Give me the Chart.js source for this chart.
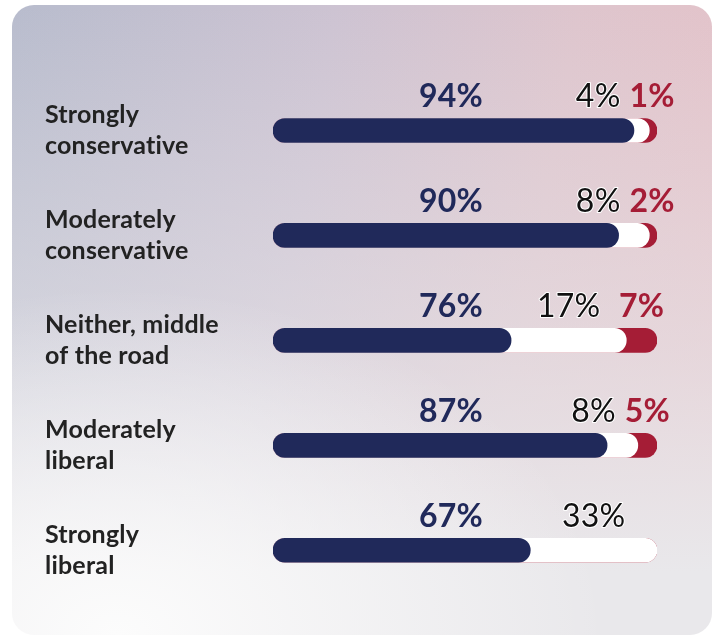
<!DOCTYPE html>
<html>
<head>
<meta charset="utf-8">
<script src="https://cdn.jsdelivr.net/npm/chart.js@4"></script>
<style>
  html, body { margin: 0; padding: 0; background: #fff; }
  #wrap { position: relative; width: 714px; height: 637px; overflow: hidden; }
  #card {
    position: absolute; left: 12px; top: 5px; width: 700px; height: 630px;
    border-radius: 22px;
    background:
      radial-gradient(ellipse 70% 55% at 15% 100%, rgba(252,252,252,1) 0%, rgba(250,250,250,0) 100%),
      linear-gradient(to bottom, rgba(232,231,234,0) 0%, rgba(232,231,234,0.55) 55%, rgba(233,232,235,1) 90%),
      linear-gradient(100deg, #b8bccd 0%, #cdc3d2 40%, #dec5cd 70%, #e6c2c8 100%);
  }
  #chart { position: absolute; left: 0; top: 0; }
</style>
</head>
<body>
<div id="wrap">
  <div id="card"></div>
  <canvas id="chart" width="714" height="637"></canvas>
</div>
<script>
const categories = [
  ['Strongly', 'conservative'],
  ['Moderately', 'conservative'],
  ['Neither, middle', 'of the road'],
  ['Moderately', 'liberal'],
  ['Strongly', 'liberal']
];
// printed percentages
const bluePct = [94, 90, 76, 87, 67];
const whitePct = [4, 8, 17, 8, 33];
const redPct = [1, 2, 7, 5, 0];
// bar extents as drawn in the picture (row 3 is drawn shorter than its label)
const blueBar = [94, 90, 62, 87, 67];
const whiteBar = [4, 8, 30, 8, 33];
const trackPct = [100, 100, 100, 100, 100];

const NAVY = '#20295a';
const RED = '#a51d36';

// white bar covers blue + white share, red track sits behind everything
const whiteCum = blueBar.map((v, i) => v + whiteBar[i]);

// small letter spacing so "ti" is not drawn as a ligature
const noLigatures = {
  id: 'noLigatures',
  beforeDraw(chart) { chart.ctx.letterSpacing = '0.2px'; }
};

const valueLabels = {
  id: 'valueLabels',
  afterDatasetsDraw(chart) {
    const ctx = chart.ctx;
    const x = chart.scales.x;
    const y = chart.scales.y;
    const maxRight = x.getPixelForValue(104.6);
    ctx.save();
    ctx.textBaseline = 'alphabetic';
    ctx.textAlign = 'left';
    categories.forEach((c, i) => {
      const base = y.getPixelForValue(i) - 23;

      ctx.font = 'bold 32px Lato';
      ctx.fillStyle = NAVY;
      const bt = bluePct[i] + '%';
      ctx.fillText(bt, x.getPixelForValue(54.7) - ctx.measureText(bt).width, base);

      // red label centred on its segment, kept inside the card
      let limit = maxRight;
      if (redPct[i] > 0) {
        const rt = redPct[i] + '%';
        const rw = ctx.measureText(rt).width;
        const rc = (x.getPixelForValue(whiteCum[i]) + x.getPixelForValue(100)) / 2;
        const rl = Math.min(rc + rw / 2, maxRight) - rw;
        ctx.fillStyle = RED;
        ctx.fillText(rt, rl, base);
        limit = rl - 9;
      }

      if (whitePct[i] > 0) {
        ctx.font = '32px Lato';
        const wt = whitePct[i] + '%';
        const ww = ctx.measureText(wt).width;
        const wc = (x.getPixelForValue(blueBar[i]) + x.getPixelForValue(whiteCum[i])) / 2;
        const wl = Math.min(wc + ww / 2, limit) - ww;
        ctx.lineJoin = 'round';
        ctx.lineWidth = 2;
        ctx.strokeStyle = '#ffffff';
        ctx.strokeText(wt, wl, base);
        ctx.fillStyle = '#111111';
        ctx.fillText(wt, wl, base);
      }
    });
    ctx.restore();
  }
};

const barStyle = {
  barThickness: 24,
  borderRadius: 12,
  borderSkipped: false,
  grouped: false
};

new Chart(document.getElementById('chart'), {
  type: 'bar',
  data: {
    labels: categories,
    datasets: [
      Object.assign({ label: 'Blue', data: blueBar, backgroundColor: NAVY }, barStyle),
      Object.assign({ label: 'White', data: whiteCum, backgroundColor: '#ffffff' }, barStyle),
      Object.assign({ label: 'Red', data: trackPct, backgroundColor: RED }, barStyle)
    ]
  },
  options: {
    indexAxis: 'y',
    responsive: false,
    animation: false,
    layout: { padding: { left: 45, right: 57, top: 78, bottom: 34 } },
    plugins: {
      legend: { display: false },
      tooltip: { enabled: false }
    },
    scales: {
      x: {
        display: false,
        min: 0,
        max: 100
      },
      y: {
        afterFit(scale) { scale.width = 228; },
        grid: { display: false },
        border: { display: false },
        ticks: {
          crossAlign: 'far',
          color: '#222222',
          font: { family: 'Lato', size: 25, weight: 'bold', lineHeight: 1.25 }
        }
      }
    }
  },
  plugins: [noLigatures, valueLabels]
});
</script>
</body>
</html>
